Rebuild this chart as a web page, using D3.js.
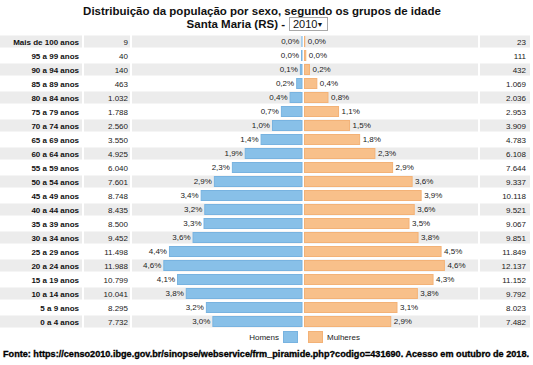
<!DOCTYPE html>
<html>
<head>
<meta charset="utf-8">
<script src="https://cdnjs.cloudflare.com/ajax/libs/d3/7.8.5/d3.min.js"></script>
<style>
    body { margin: 0; background: #fff; }
    svg { display: block; font-family: "Liberation Sans", Arial, sans-serif; }
</style>
</head>
<body>
<svg id="canvas" width="533" height="365"></svg>
<script>
var ages = ['Mais de 100 anos', '95 a 99 anos', '90 a 94 anos', '85 a 89 anos', '80 a 84 anos',
    '75 a 79 anos', '70 a 74 anos', '65 a 69 anos', '60 a 64 anos', '55 a 59 anos', '50 a 54 anos',
    '45 a 49 anos', '40 a 44 anos', '35 a 39 anos', '30 a 34 anos', '25 a 29 anos', '20 a 24 anos',
    '15 a 19 anos', '10 a 14 anos', '5 a 9 anos', '0 a 4 anos'];
var homens = [9, 40, 140, 463, 1032, 1788, 2560, 3550, 4925, 6040, 7601,
    8748, 8435, 8500, 9452, 11498, 11988, 10799, 10041, 8295, 7732];
var mulheres = [23, 111, 432, 1069, 2036, 2953, 3909, 4783, 6108, 7644, 9337,
    10118, 9521, 9067, 9851, 11849, 12137, 11152, 9792, 8023, 7482];
var series = ['Homens', 'Mulheres'];

var total = d3.sum(homens) + d3.sum(mulheres);

var rows = ages.map(function (a, i) {
    return {
        age: a,
        i: i,
        h: homens[i],
        m: mulheres[i],
        ph: homens[i] / total * 100,
        pm: mulheres[i] / total * 100
    };
});

var svg = d3.select('#canvas');

var numFmt = function (v) {
    return d3.format(',')(v).replace(/,/g, '.');
};
var pctFmt = function (v) {
    return d3.format('.1f')(v).replace('.', ',') + '%';
};

var y = d3.scaleBand().domain(ages).range([34.5, 328.5]);
var xL = d3.scaleLinear().domain([0, 5.65]).range([302, 132]);
var xR = d3.scaleLinear().domain([0, 5.65]).range([304.5, 474.5]);

// title
svg.append('text')
    .attr('x', 262).attr('y', 15)
    .attr('text-anchor', 'middle')
    .attr('font-size', 11.5).attr('font-weight', 'bold')
    .attr('fill', '#111')
    .text('Distribuição da população por sexo, segundo os grupos de idade');
svg.append('text')
    .attr('x', 285).attr('y', 28)
    .attr('text-anchor', 'end')
    .attr('font-size', 11.5).attr('font-weight', 'bold')
    .attr('fill', '#111')
    .text('Santa Maria (RS) -');

// year "select"
svg.append('rect')
    .attr('x', 289.5).attr('y', 17.5)
    .attr('width', 38).attr('height', 13)
    .attr('fill', '#fff').attr('stroke', '#a9a9a9');
svg.append('text')
    .attr('x', 293).attr('y', 28)
    .attr('font-size', 11).attr('fill', '#111')
    .text('2010');
svg.append('text')
    .attr('x', 320).attr('y', 27)
    .attr('text-anchor', 'middle')
    .attr('font-size', 7).attr('fill', '#111')
    .text('▼');

// grey stripes on every other row
var cols = [[0, 82], [84, 130], [132, 301], [304, 478], [480, 530]];
var striped = rows.filter(function (d) { return d.i % 2 === 0; });
cols.forEach(function (c) {
    svg.append('g').selectAll('rect')
        .data(striped)
        .enter()
        .append('rect')
        .attr('x', c[0])
        .attr('width', c[1] - c[0])
        .attr('y', function (d) { return y(d.age) + 1; })
        .attr('height', 12)
        .attr('fill', '#ececec');
});

// age labels
svg.append('g').selectAll('text')
    .data(rows)
    .enter()
    .append('text')
    .attr('x', 79)
    .attr('y', function (d) { return y(d.age) + 10; })
    .attr('text-anchor', 'end')
    .attr('font-size', 8).attr('font-weight', 'bold')
    .attr('fill', '#111')
    .text(function (d) { return d.age; });

// counts
svg.append('g').selectAll('text')
    .data(rows)
    .enter()
    .append('text')
    .attr('x', 128)
    .attr('y', function (d) { return y(d.age) + 10; })
    .attr('text-anchor', 'end')
    .attr('font-size', 8)
    .attr('fill', '#222')
    .text(function (d) { return numFmt(d.h); });
svg.append('g').selectAll('text')
    .data(rows)
    .enter()
    .append('text')
    .attr('x', 526)
    .attr('y', function (d) { return y(d.age) + 10; })
    .attr('text-anchor', 'end')
    .attr('font-size', 8)
    .attr('fill', '#222')
    .text(function (d) { return numFmt(d.m); });

// bars
svg.append('g').selectAll('rect')
    .data(rows)
    .enter()
    .append('rect')
    .attr('x', function (d) { return xL(d.ph); })
    .attr('width', function (d) { return xL(0) - xL(d.ph); })
    .attr('y', function (d) { return y(d.age) + 2; })
    .attr('height', 10)
    .attr('fill', '#88c0e8')
    .attr('stroke', '#78b3e0')
    .attr('stroke-width', 1);
svg.append('g').selectAll('rect')
    .data(rows)
    .enter()
    .append('rect')
    .attr('x', xR(0))
    .attr('width', function (d) { return xR(d.pm) - xR(0); })
    .attr('y', function (d) { return y(d.age) + 2; })
    .attr('height', 10)
    .attr('fill', '#f8c08a')
    .attr('stroke', '#f3b277')
    .attr('stroke-width', 1);

// percent labels
svg.append('g').selectAll('text')
    .data(rows)
    .enter()
    .append('text')
    .attr('x', function (d) { return xL(d.ph) - 2.5; })
    .attr('y', function (d) { return y(d.age) + 9.5; })
    .attr('text-anchor', 'end')
    .attr('font-size', 8)
    .attr('fill', '#222')
    .text(function (d) { return pctFmt(d.ph); });
svg.append('g').selectAll('text')
    .data(rows)
    .enter()
    .append('text')
    .attr('x', function (d) { return xR(d.pm) + 3; })
    .attr('y', function (d) { return y(d.age) + 9.5; })
    .attr('font-size', 8)
    .attr('fill', '#222')
    .text(function (d) { return pctFmt(d.pm); });

// legend
var legColors = ['#88c0e8', '#f8c08a'];
var legStroke = ['#78b3e0', '#f3b277'];
svg.append('text')
    .attr('x', 279).attr('y', 340)
    .attr('text-anchor', 'end')
    .attr('font-size', 8).attr('fill', '#222')
    .text(series[0]);
svg.append('text')
    .attr('x', 327).attr('y', 340)
    .attr('font-size', 8).attr('fill', '#222')
    .text(series[1]);
svg.append('g').selectAll('rect')
    .data(series)
    .enter()
    .append('rect')
    .attr('x', function (d, i) { return i === 0 ? 283.5 : 308.5; })
    .attr('y', 331.5)
    .attr('width', 14)
    .attr('height', 11)
    .attr('fill', function (d, i) { return legColors[i]; })
    .attr('stroke', function (d, i) { return legStroke[i]; });

// source
svg.append('text')
    .attr('x', 3).attr('y', 357)
    .attr('font-size', 8.4).attr('font-weight', 'bold')
    .attr('fill', '#000')
    .attr('stroke', '#000')
    .attr('stroke-width', 0.3)
    .attr('textLength', 526)
    .attr('lengthAdjust', 'spacingAndGlyphs')
    .text('Fonte: https://censo2010.ibge.gov.br/sinopse/webservice/frm_piramide.php?codigo=431690. Acesso em outubro de 2018.');
</script>
</body>
</html>
